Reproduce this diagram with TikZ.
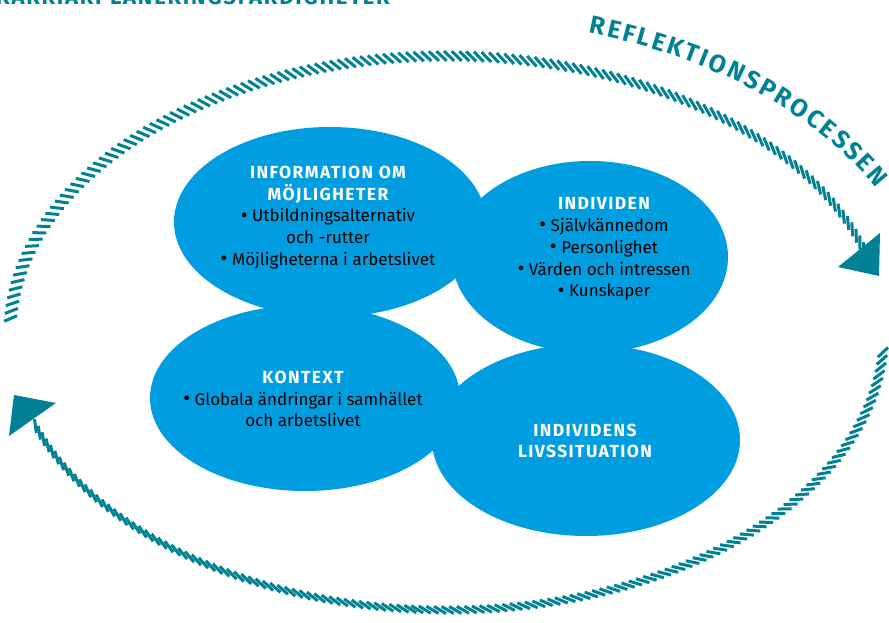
\documentclass[tikz,border=0pt]{standalone}
\usepackage{fontspec}
\setmainfont{Fira Sans}
\newfontfamily\headfont[LetterSpace=8]{Fira Sans}
\usetikzlibrary{calc,decorations.markings,decorations.text,shapes.geometric}
\definecolor{bblue}{RGB}{0,158,224}
\definecolor{tealc}{RGB}{0,130,148}
\tikzset{
  blob/.style={ellipse, fill=bblue, draw=none, inner sep=0pt},
  txt/.style={align=center, text=black, font=\fontsize{17}{21.8}\selectfont, inner sep=0pt},
  hatch/.style 2 args={decorate, decoration={markings,
     mark=between positions 0 and 1 step 7.6pt with {%
       \pgfmathsetmacro\hfrac{\pgfkeysvalueof{/pgf/decoration/mark info/distance from start}/\pgfdecoratedpathlength}%
       \pgfmathsetmacro\hang{#1+(#2-#1)*\hfrac}%
       \pgfmathsetmacro\hd{7*cos(\hang)}%
       \pgfmathsetmacro\hw{7*sin(abs(\hang))}%
       \draw[tealc, line width=3pt] (-\hd pt,\hw pt) -- (\hd pt,-\hw pt);}}}
}
\newcommand\hdg{\headfont\bfseries\fontsize{17.5}{21.8}\selectfont\color{white}}
\newcommand\bul{{\fontsize{21}{0}\selectfont\raisebox{-0.5pt}{•}}}
\begin{document}
\begin{tikzpicture}[x=1pt,y=1pt]
\useasboundingbox (0,0) rectangle (889,623);
% cut-off title at top
\node[anchor=base east, inner sep=0pt, text=tealc, font=\headfont\bfseries\fontsize{22}{22}\selectfont] (title) at (390,618.5) {KARRIÄRPLANERINGSFÄRDIGHETER};
% ellipses
\node[blob, minimum width=312pt, minimum height=190pt] (info) at (330,401) {};
\node[blob, minimum width=276pt, minimum height=192pt] (indiv) at (590,366) {};
\node[blob, minimum width=310pt, minimum height=186pt] (kontext) at (305,225) {};
\node[blob, minimum width=308pt, minimum height=192pt] (livs) at (586,183) {};
% texts
\node[txt] (infot) at (328,405.5) {{\hdg INFORMATION OM}\\{\hdg MÖJLIGHETER}\\\bul\ Utbildningsalternativ\\och -rutter\\\bul\ Möjligheterna i arbetslivet};
\node[txt] (indivt) at (604,374) {{\hdg INDIVIDEN}\\\bul\ Självkännedom\\\bul\ Personlighet\\\bul\ Värden och intressen\\\bul\ Kunskaper};
\node[txt] (kontextt) at (303,224) {{\hdg KONTEXT}\\\bul\ Globala ändringar i samhället\\och arbetslivet};
\node[txt] (livst) at (585,182) {{\hdg INDIVIDENS}\\{\hdg LIVSSITUATION}};
% hatched arcs
\path[hatch={-62}{-28}] ($(447,290)+(177:437 and 277)$) arc[start angle=177, end angle=17, x radius=437, y radius=277];
\path[hatch={-40}{-22}] ($(447,290)+(-4:437 and 277)$) arc[start angle=-4, end angle=-160.5, x radius=437, y radius=277];
% arrowheads
\fill[tealc] (880,390) -- (838,356) -- (879,347) -- cycle;
\fill[tealc] (14,228) -- (56,220) -- (9,187) -- cycle;
% curved label
\path[decorate, decoration={text along path, text color=tealc,
   text={|\bfseries\fontsize{25}{25}\selectfont|REFLEKTIONSPROCESSEN}, text align=fit to path}]
   ($(447,290)+(73:484 and 314)$) arc[start angle=73, end angle=27.5, x radius=484, y radius=314];
\end{tikzpicture}
\end{document}
